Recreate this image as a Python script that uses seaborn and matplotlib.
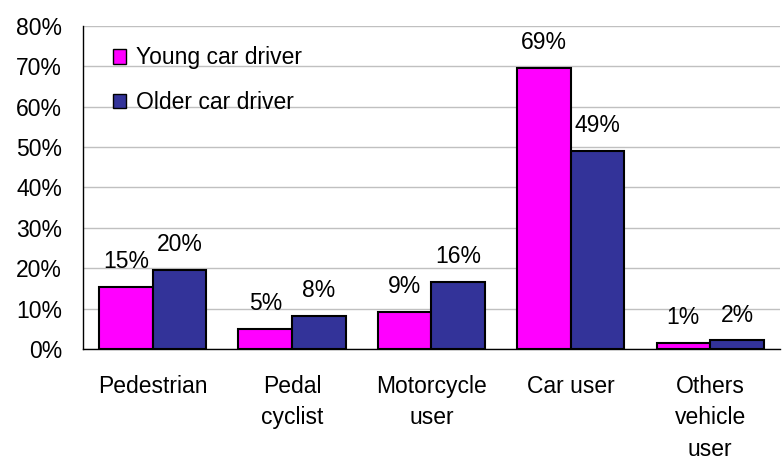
import numpy as np
import seaborn as sns
import pandas as pd
from matplotlib import pyplot as plt
from matplotlib.ticker import PercentFormatter, MultipleLocator

categories = ['Pedestrian', 'Pedal\ncyclist', 'Motorcycle\nuser', 'Car user', 'Others\nvehicle\nuser']
young = [15.3, 5.0, 9.2, 69.5, 1.6]
older = [19.6, 8.2, 16.6, 49.0, 2.1]
young_labels = ['15%', '5%', '9%', '69%', '1%']
older_labels = ['20%', '8%', '16%', '49%', '2%']
series = ['Young car driver', 'Older car driver']

data = pd.DataFrame({
    'category': categories * 2,
    'value': young + older,
    'driver': [series[0]] * len(categories) + [series[1]] * len(categories),
})

sns.set_style('white')
plt.rcParams['font.family'] = ['Liberation Sans', 'DejaVu Sans']
plt.rcParams['text.color'] = 'black'
plt.rcParams['xtick.color'] = 'black'
plt.rcParams['ytick.color'] = 'black'

fs = 16.5

fig = plt.figure(figsize=(7.83, 4.61), dpi=100)
ax = fig.add_axes([0.106, 0.243, 0.89, 0.701])

sns.barplot(data=data, x='category', y='value', hue='driver',
            palette=['#FF00FF', '#333399'], saturation=1, width=0.77,
            edgecolor='black', linewidth=1.5, ax=ax, zorder=3)

for cont, labels in zip(ax.containers, [young_labels, older_labels]):
    ax.bar_label(cont, labels=labels, padding=10, fontsize=fs, color='black')

ax.set_ylim(0, 80)
ax.yaxis.set_major_locator(MultipleLocator(10))
ax.yaxis.set_major_formatter(PercentFormatter(decimals=0))
ax.grid(axis='y', color='#c0c0c0', linewidth=1, zorder=0)
ax.set_xlim(-0.5, len(categories) - 0.5)
ax.set_xlabel('')
ax.set_ylabel('')

ax.set_xticks(np.arange(len(categories) + 1) - 0.5, minor=True)
ax.tick_params(axis='x', which='major', length=0, pad=19)
ax.tick_params(axis='x', which='minor', length=6, width=1, color='black', direction='out')
ax.tick_params(axis='y', length=6, width=1, color='black', direction='out',
               labelsize=fs, pad=9)
for lab in ax.get_xticklabels():
    lab.set_fontsize(fs)
    lab.set_linespacing(1.45)
    lab.set_verticalalignment('top')

for side in ['top', 'right']:
    ax.spines[side].set_visible(False)
for side in ['left', 'bottom']:
    ax.spines[side].set_color('black')
    ax.spines[side].set_linewidth(1)

leg = ax.legend(loc='upper left', bbox_to_anchor=(0.013, 1.0), frameon=False,
                fontsize=fs, handlelength=0.6, handleheight=0.6,
                handletextpad=0.4, labelspacing=0.95)
for h in leg.legend_handles:
    h.set_edgecolor('black')
    h.set_linewidth(1)

fig.savefig('out.png', dpi=100)
